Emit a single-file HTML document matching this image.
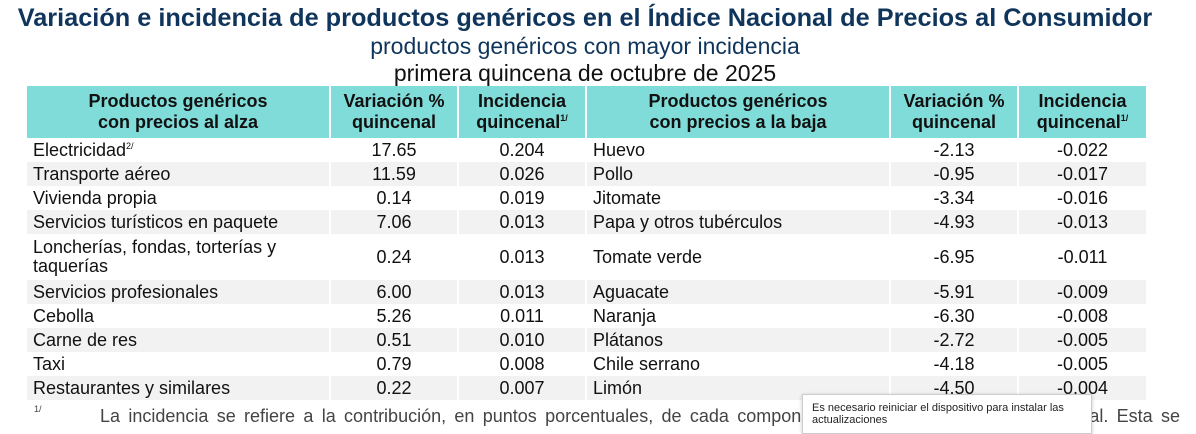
<!DOCTYPE html>
<html><head><meta charset="utf-8"><style>
body{margin:0;width:1196px;height:425px;overflow:hidden;background:#fff;font-family:"Liberation Sans",sans-serif;position:relative}
.t1{position:absolute;top:4px;left:0;width:1170px;text-align:center;font-weight:bold;font-size:25.3px;color:#10355c;white-space:nowrap}
.t2{position:absolute;top:33px;left:0;width:1170px;text-align:center;font-size:23px;color:#10355c}
.t3{position:absolute;top:60px;left:0;width:1170px;text-align:center;font-size:23px;color:#111}
table{position:absolute;top:86px;left:25px;border-collapse:collapse;table-layout:fixed;width:1120px}
td,th{padding:0 6px;font-size:18px;color:#111;border-left:2px solid #fff}
th{background:#80dcd9;font-weight:bold;height:52px;line-height:21px;text-align:center;font-size:18px}
td{height:24px;line-height:19px}
tr.g td{background:#f2f2f2}
td.n{text-align:center}
sup{font-size:9px;vertical-align:7px;line-height:0}
.fn1{position:absolute;top:404px;left:34px;font-size:9px;color:#444}
.fn{position:absolute;top:406px;left:100px;width:1080px;font-size:18px;color:#444;white-space:nowrap;text-align:justify;text-align-last:justify}
.tip{position:absolute;left:802px;top:394px;width:290px;height:40px;background:#fff;border:1px solid #ccc;box-shadow:0 1px 4px rgba(0,0,0,.2);font-size:11px;padding:7px 9px;box-sizing:border-box;color:#222}
</style></head><body>
<div class="t1">Variación e incidencia de productos genéricos en el Índice Nacional de Precios al Consumidor</div>
<div class="t2">productos genéricos con mayor incidencia</div>
<div class="t3">primera quincena de octubre de 2025</div>
<table>
<colgroup><col style="width:304px"><col style="width:128px"><col style="width:128px"><col style="width:304px"><col style="width:128px"><col style="width:128px"></colgroup>
<tr><th>Productos genéricos<br>con precios al alza</th><th>Variación %<br>quincenal</th><th>Incidencia<br>quincenal<sup>1/</sup></th><th>Productos genéricos<br>con precios a la baja</th><th>Variación %<br>quincenal</th><th>Incidencia<br>quincenal<sup>1/</sup></th></tr>
<tr><td>Electricidad<sup>2/</sup></td><td class="n">17.65</td><td class="n">0.204</td><td>Huevo</td><td class="n">-2.13</td><td class="n">-0.022</td></tr>
<tr class="g"><td>Transporte aéreo</td><td class="n">11.59</td><td class="n">0.026</td><td>Pollo</td><td class="n">-0.95</td><td class="n">-0.017</td></tr>
<tr><td>Vivienda propia</td><td class="n">0.14</td><td class="n">0.019</td><td>Jitomate</td><td class="n">-3.34</td><td class="n">-0.016</td></tr>
<tr class="g"><td>Servicios turísticos en paquete</td><td class="n">7.06</td><td class="n">0.013</td><td>Papa y otros tubérculos</td><td class="n">-4.93</td><td class="n">-0.013</td></tr>
<tr><td style="height:46px">Loncherías, fondas, torterías y<br>taquerías</td><td class="n">0.24</td><td class="n">0.013</td><td>Tomate verde</td><td class="n">-6.95</td><td class="n">-0.011</td></tr>
<tr class="g"><td>Servicios profesionales</td><td class="n">6.00</td><td class="n">0.013</td><td>Aguacate</td><td class="n">-5.91</td><td class="n">-0.009</td></tr>
<tr><td>Cebolla</td><td class="n">5.26</td><td class="n">0.011</td><td>Naranja</td><td class="n">-6.30</td><td class="n">-0.008</td></tr>
<tr class="g"><td>Carne de res</td><td class="n">0.51</td><td class="n">0.010</td><td>Plátanos</td><td class="n">-2.72</td><td class="n">-0.005</td></tr>
<tr><td>Taxi</td><td class="n">0.79</td><td class="n">0.008</td><td>Chile serrano</td><td class="n">-4.18</td><td class="n">-0.005</td></tr>
<tr class="g"><td>Restaurantes y similares</td><td class="n">0.22</td><td class="n">0.007</td><td>Limón</td><td class="n">-4.50</td><td class="n">-0.004</td></tr>
</table>
<div class="fn1">1/</div>
<div class="fn">La incidencia se refiere a la contribución, en puntos porcentuales, de cada componente del INPC a la inflación general. Esta se</div>
<div class="tip">Es necesario reiniciar el dispositivo para instalar las actualizaciones</div>
</body></html>
